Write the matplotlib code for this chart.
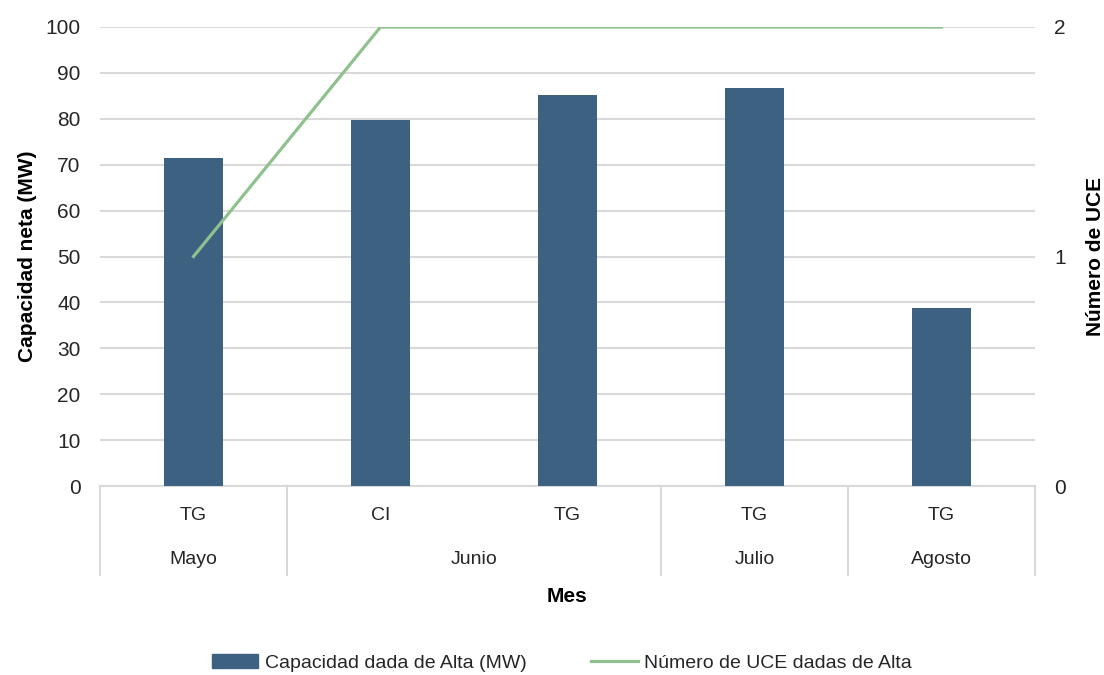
import numpy as np
import matplotlib.pyplot as plt
from matplotlib.patches import Patch
from matplotlib.lines import Line2D

plt.rcParams['font.family'] = ['Liberation Sans Narrow', 'Liberation Sans', 'DejaVu Sans']

# Data
tech = ['TG', 'CI', 'TG', 'TG', 'TG']
months = ['Mayo', 'Junio', 'Julio', 'Agosto']
month_span = [1, 2, 1, 1]  # number of categories under each month
capacity = [71.5, 79.8, 85.2, 86.8, 38.8]
n_uce = [1, 2, 2, 2, 2]

bar_color = '#3d6180'
line_color = '#8fc18f'
grid_color = '#d9d9d9'
text_color = '#262626'

fig = plt.figure(figsize=(11.04, 6.75), dpi=100)
ax = fig.add_axes([100 / 1104, 1 - 486 / 675, 935 / 1104, 459 / 675])
ax2 = ax.twinx()

x = np.arange(len(capacity))
ax.bar(x, capacity, width=0.315, color=bar_color, zorder=3)
ax2.plot(x, n_uce, color=line_color, lw=2.3, zorder=4)

ax.set_xlim(-0.5, len(capacity) - 0.5)
ax.set_ylim(0, 100)
ax.set_yticks(np.arange(0, 101, 10))
ax2.set_ylim(0, 2)
ax2.set_yticks([0, 1, 2])

ax.grid(axis='y', color=grid_color, lw=1.5, zorder=0)
ax.set_axisbelow(True)
for a in (ax, ax2):
    for s in a.spines.values():
        s.set_visible(False)
    a.tick_params(length=0, labelsize=15, colors=text_color, pad=14)
ax.spines['bottom'].set_visible(True)
ax.spines['bottom'].set_color(grid_color)
ax.spines['bottom'].set_linewidth(1.5)
ax.set_xticks([])

ax.set_ylabel('Capacidad neta (MW)', fontsize=15, fontweight='bold', color='black', labelpad=6)
ax2.set_ylabel('Número de UCE', fontsize=15, fontweight='bold', color='black', labelpad=14)

# Two-level category axis
trans = ax.get_xaxis_transform()
depth = -(575 - 486) / 459
for i, t in enumerate(tech):
    ax.text(i, -(516 - 486) / 459, t, transform=trans, ha='center', va='center',
            fontsize=14, color=text_color)
edges = np.concatenate([[0], np.cumsum(month_span)]) - 0.5
for xe in edges:
    ax.plot([xe, xe], [0, depth], transform=trans, color=grid_color, lw=1.5, clip_on=False)
for m, a, b in zip(months, edges[:-1], edges[1:]):
    ax.text((a + b) / 2, -(559 - 486) / 459, m, transform=trans, ha='center', va='center',
            fontsize=14, color=text_color)
ax.text(0.5, -(596 - 486) / 459, 'Mes', transform=ax.transAxes, ha='center', va='center',
        fontsize=15, fontweight='bold', color='black')

handles = [Patch(color=bar_color), Line2D([], [], color=line_color, lw=2.3)]
labels = ['Capacidad dada de Alta (MW)', 'Número de UCE dadas de Alta']
fig.legend(handles, labels, loc='center', bbox_to_anchor=(0.509, 1 - 663 / 675), ncol=2,
           frameon=False, fontsize=14, handlelength=2.4, handletextpad=0.35,
           columnspacing=3.3, labelcolor=text_color)

fig.savefig('out.png', dpi=100)
